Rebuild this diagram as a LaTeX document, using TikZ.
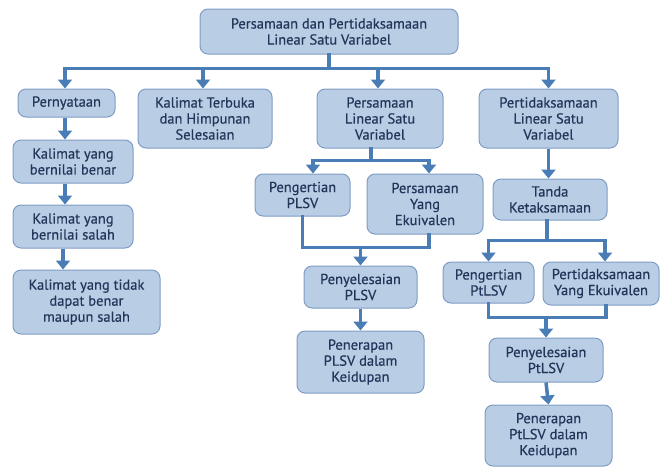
\documentclass[tikz,border=0pt]{standalone}
\usepackage{fontspec}
\setmainfont{PT Sans}
\newfontfamily\boxfont{PT Sans}[FakeBold=0.5]
\usetikzlibrary{arrows.meta,calc}
\definecolor{boxfill}{HTML}{B9CDE5}
\definecolor{boxline}{HTML}{7F9CC4}
\definecolor{arrowc}{HTML}{4A7DB5}
\definecolor{txt}{HTML}{22365A}
\begin{document}
\begin{tikzpicture}[x=1pt,y=-1pt,
  box/.style={draw=boxline, line width=1pt, fill=boxfill, rounded corners=8pt,
    align=center, inner sep=0pt, text=txt, font=\boxfont\fontsize{14.5}{16}\selectfont},
  conn/.style={draw=arrowc, line width=3.5pt, line cap=rect},
  arr/.style={draw=arrowc, line width=3.5pt, -{Triangle[width=14pt,length=9pt]}}]
\useasboundingbox (0,0) rectangle (661,467);

% nodes
\node[box, minimum width=258pt, minimum height=45pt] (top) at (329,31.5) {Persamaan dan Pertidaksamaan\\Linear Satu Variabel};
\node[box, minimum width=97pt, minimum height=28pt] (pern) at (66.5,103) {Pernyataan};
\node[box, minimum width=134pt, minimum height=59pt] (kt) at (205,118.5) {Kalimat Terbuka\\dan Himpunan\\Selesaian};
\node[box, minimum width=126pt, minimum height=59pt] (plsv) at (380,118.5) {Persamaan\\Linear Satu\\Variabel};
\node[box, minimum width=139pt, minimum height=59pt] (ptlsv) at (548.5,118.5) {Pertidaksamaan\\Linear Satu\\Variabel};

\node[box, minimum width=120pt, minimum height=43pt] (benar) at (73,161.5) {Kalimat yang\\bernilai benar};
\node[box, minimum width=120pt, minimum height=43pt] (salah) at (73,226.5) {Kalimat yang\\bernilai salah};
\node[box, minimum width=147pt, minimum height=64pt] (tidak) at (86.5,302) {Kalimat yang tidak\\dapat benar\\maupun salah};

\node[box, minimum width=95pt, minimum height=42pt] (pengplsv) at (302.5,195) {Pengertian\\PLSV};
\node[box, minimum width=116pt, minimum height=60pt] (pye) at (425,204) {Persamaan\\Yang\\Ekuivalen};
\node[box, minimum width=113pt, minimum height=42pt] (penyplsv) at (360.5,287) {Penyelesaian\\PLSV};
\node[box, minimum width=127pt, minimum height=62pt] (penerplsv) at (360.5,362) {Penerapan\\PLSV dalam\\Keidupan};

\node[box, minimum width=114pt, minimum height=41pt] (tanda) at (550,199.5) {Tanda\\Ketaksamaan};
\node[box, minimum width=91pt, minimum height=41pt] (pengpt) at (488.5,282.5) {Pengertian\\PtLSV};
\node[box, minimum width=116pt, minimum height=43pt] (ptye) at (601,283.5) {Pertidaksamaan\\Yang Ekuivalen};
\node[box, minimum width=114pt, minimum height=44pt] (penypt) at (546,360) {Penyelesaian\\PtLSV};
\node[box, minimum width=127pt, minimum height=61pt] (penerpt) at (548.5,435.5) {Penerapan\\PtLSV dalam\\Keidupan};

% top level connectors
\coordinate (j0) at ($(top.south)+(0,14)$);
\draw[conn] (top.south) -- (j0);
\draw[conn] ($(j0 -| pern.north)+(-1.5,0)$) -- (j0 -| ptlsv.north);
\draw[arr] ($(j0 -| pern.north)+(-1.5,0)$) -- ($(pern.north)+(-1.5,0)$);
\draw[arr] ($(j0 -| kt.north)+(-2,0)$) -- ($(kt.north)+(-2,0)$);
\draw[arr] ($(j0 -| plsv.north)+(-2,0)$) -- ($(plsv.north)+(-2,0)$);
\draw[arr] (j0 -| ptlsv.north) -- (ptlsv.north);

% left column
\draw[arr] ($(pern.south)+(-1.5,0)$) -- ($(benar.north)+(-8,0)$);
\draw[arr] ($(benar.south)+(-8,0)$) -- ($(salah.north)+(-8,0)$);
\draw[arr] ($(salah.south)+(-10,0)$) -- ($(tidak.north)+(-23.5,0)$);

% PLSV branch
\coordinate (j1) at ($(plsv.south)+(-9,12)$);
\draw[conn] ($(plsv.south)+(-9,0)$) -- (j1);
\draw[conn] ($(j1 -| pengplsv.north)+(10.5,0)$) -- ($(j1 -| pye.north)+(4,0)$);
\draw[arr] ($(j1 -| pengplsv.north)+(10.5,0)$) -- ($(pengplsv.north)+(10.5,0)$);
\draw[arr] ($(j1 -| pye.north)+(4,0)$) -- ($(pye.north)+(4,0)$);
\coordinate (j2) at ($(pengplsv.south)+(0,31)$);
\draw[conn] (pengplsv.south) -- (j2) -- ($(j2 -| pye.south)+(4,0)$) -- ($(pye.south)+(4,0)$);
\draw[arr] (j2 -| penyplsv.north) -- (penyplsv.north);
\draw[arr] (penyplsv.south) -- (penerplsv.north);

% PtLSV branch
\draw[arr] (ptlsv.south) -- (ptlsv.south |- tanda.north);
\coordinate (j3) at ($(tanda.south)+(-3,20)$);
\draw[conn] ($(tanda.south)+(-3,0)$) -- (j3);
\draw[conn] (j3 -| pengpt.north) -- ($(j3 -| ptye.north)+(4,0)$);
\draw[arr] (j3 -| pengpt.north) -- (pengpt.north);
\draw[arr] ($(j3 -| ptye.north)+(4,0)$) -- ($(ptye.north)+(4,0)$);
\coordinate (j4) at ($(pengpt.south)+(0,14)$);
\draw[conn] (pengpt.south) -- (j4) -- ($(j4 -| ptye.south)+(5,0)$) -- ($(ptye.south)+(5,0)$);
\draw[arr] (j4 -| penypt.north) -- (penypt.north);
\draw[arr] (penypt.south) -- (penerpt.north);
\end{tikzpicture}
\end{document}
